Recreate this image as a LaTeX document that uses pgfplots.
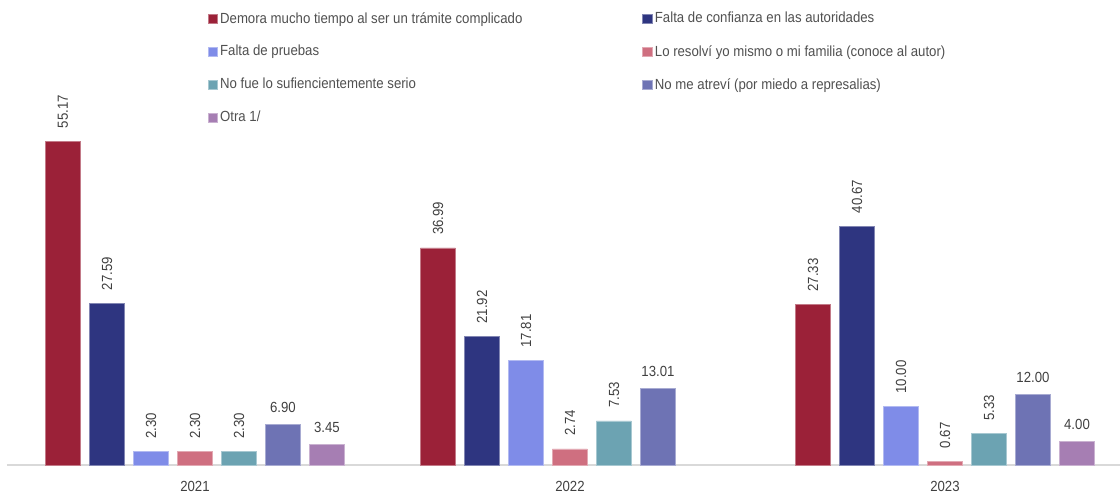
\documentclass[border=0pt]{standalone}
\usepackage{fontspec}
\setmainfont{Liberation Sans}[FakeStretch=0.9]
\usepackage{pgfplots}
\pgfplotsset{compat=1.18}
\usepackage{pgfplotstable}

\definecolor{cDemora}{RGB}{155,33,56}
\definecolor{cConf}{RGB}{46,53,128}
\definecolor{cPrue}{RGB}{127,140,232}
\definecolor{cResol}{RGB}{207,111,128}
\definecolor{cSerio}{RGB}{108,163,178}
\definecolor{cAtrev}{RGB}{110,115,180}
\definecolor{cOtra}{RGB}{166,126,179}
\definecolor{txt}{RGB}{64,64,64}
\definecolor{leg}{RGB}{80,80,80}

% one table per series, x: 0=2021, 1=2022, 2=2023
\pgfplotstableread{
x y
0 55.17
1 36.99
2 27.33
}\demora
\pgfplotstableread{
x y
0 27.59
1 21.92
2 40.67
}\confianza
\pgfplotstableread{
x y
0 2.30
1 17.81
2 10.00
}\pruebas
\pgfplotstableread{
x y
0 2.30
1 2.74
2 0.67
}\resolvi
\pgfplotstableread{
x y
0 2.30
1 7.53
2 5.33
}\serio
\pgfplotstableread{
x y
0 6.90
1 13.01
2 12.00
}\atrevi
\pgfplotstableread{
x y
0 3.45
2 4.00
}\otra

\begin{document}
\fontsize{11pt}{13pt}\selectfont
\begin{tikzpicture}[font=\fontsize{11pt}{13pt}\selectfont]
\begin{axis}[
  scale only axis, width=834.75pt, height=348.75pt,
  ybar=6.75pt, bar width=26.25pt,
  xmin=-0.5013, xmax=2.4667, ymin=0, ymax=79.2,
  hide y axis, axis x line*=bottom,
  x axis line style={-, draw=black!15, line width=1.1pt},
  xtick={0,1,2}, xticklabels={2021,2022,2023}, major tick length=0pt,
  xticklabel style={text=txt, yshift=-8.5pt},
  clip=false,
  nodes near coords,
  every node near coord/.append style={text=txt, inner sep=0pt},
  /pgf/number format/fixed, /pgf/number format/fixed zerofill,
  /pgf/number format/precision=2, /pgf/number format/assume math mode=true,
  legend columns=2,
  legend cell align=left,
  legend style={at={(axis description cs:0.180,0.98)}, anchor=north west,
    draw=none, fill=none, inner sep=0pt, text=leg, row sep=11pt,
    /tikz/every even column/.append style={column sep=88pt}},
  legend image code/.code={\fill[#1] (0pt,-3.5pt) rectangle (7pt,3.5pt);},
  rot/.style={nodes near coords style={rotate=90, anchor=west, xshift=9.5pt}},
  hor/.style={nodes near coords style={anchor=south, yshift=9pt}},
]
\addplot[fill=cDemora, draw=cDemora!60!white, rot] table {\demora};
\addlegendentry{Demora mucho tiempo al ser un trámite complicado}
\addplot[fill=cConf, draw=cConf!60!white, rot] table {\confianza};
\addlegendentry{Falta de confianza en las autoridades}
\addplot[fill=cPrue, draw=cPrue!60!white, rot] table {\pruebas};
\addlegendentry{Falta de pruebas}
\addplot[fill=cResol, draw=cResol!60!white, rot] table {\resolvi};
\addlegendentry{Lo resolví yo mismo o mi familia (conoce al autor)}
\addplot[fill=cSerio, draw=cSerio!60!white, rot] table {\serio};
\addlegendentry{No fue lo sufiencientemente serio}
\addplot[fill=cAtrev, draw=cAtrev!60!white, hor] table {\atrevi};
\addlegendentry{No me atreví (por miedo a represalias)}
\addplot[fill=cOtra, draw=cOtra!60!white, hor] table {\otra};
\addlegendentry{Otra 1/}
\coordinate (bl) at (rel axis cs:0,0);
\coordinate (tr) at (rel axis cs:1,1);
\end{axis}
\pgfresetboundingbox
\path (bl) ++(-5.25pt,-24pt) rectangle (tr);
\end{tikzpicture}
\end{document}
